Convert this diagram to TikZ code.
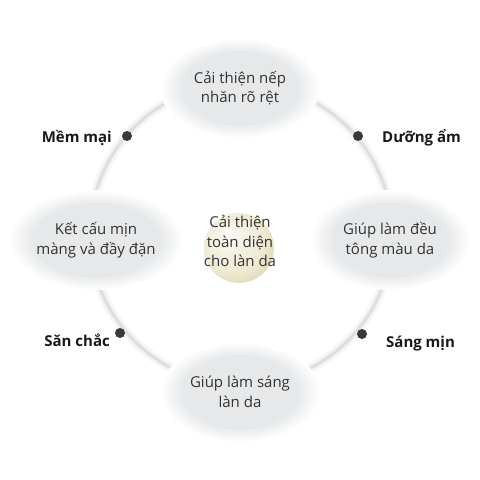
\documentclass[tikz,border=0pt]{standalone}
\usepackage{fontspec}
\setmainfont{Open Sans}
\usetikzlibrary{shapes.geometric,positioning}
\definecolor{hazegray}{RGB}{230,232,234}
\definecolor{ringgray}{RGB}{222,222,222}
\definecolor{pearlhi}{RGB}{247,245,234}
\definecolor{pearlmid}{RGB}{238,234,212}
\definecolor{pearledge}{RGB}{218,210,170}
\definecolor{textgray}{RGB}{51,51,51}
\definecolor{dotgray}{RGB}{58,56,58}
\pgfdeclareradialshading{haze}{\pgfpoint{0bp}{0bp}}{color(0bp)=(hazegray); color(18bp)=(hazegray); color(25bp)=(white); color(50bp)=(white)}
\pgfdeclareradialshading{pearl}{\pgfpoint{-9bp}{9bp}}{color(0bp)=(white); color(6bp)=(pearlhi); color(22bp)=(pearlmid); color(36bp)=(pearledge); color(50bp)=(pearledge)}

\begin{document}
\begin{tikzpicture}[x=1pt,y=1pt,
blob/.style={ellipse, shading=haze, minimum width=160pt, minimum height=100pt, inner sep=0pt, align=center, text=textgray, font=\fontsize{15}{19.5}\selectfont},
punkt/.style={circle, minimum size=10pt, inner sep=0pt, fill=dotgray},
tag/.style={inner sep=0pt, text=black!90, font=\bfseries\fontsize{15}{17}\selectfont},
]
\useasboundingbox (0,0) rectangle (480,480);

%\draw[help lines,yellow,thin] (0,0) grid[step=20] (480,480);

\draw [line width=10pt, ringgray!25] (241,246) circle (151);
\draw [line width=5pt, ringgray!55] (241,246) circle (151);
\draw [line width=2.5pt, ringgray] (241,246) circle (151);

\node [blob] (top) at (240,392){Cải thiện nếp\\nhăn rõ rệt};
\node [blob, minimum width=175pt] (left) at (96,240){Kết cấu mịn\\màng và đầy đặn};
\node [blob] (right) at (390,240){Giúp làm đều\\tông màu da};
\node [blob] (bottom) at (240,88){Giúp làm sáng\\làn da};

\node [circle, shading=pearl, minimum size=70pt] (core) at (239,232){};
\node [align=center, text=textgray, font=\fontsize{15}{19.5}\selectfont] (coretext) at (240,239){Cải thiện\\toàn diện\\cho làn da};

\node [punkt] (d1) at (127,344){};
\node [punkt] (d2) at (358,344){};
\node [punkt] (d3) at (120,147){};
\node [punkt] (d4) at (362,146){};

\node [tag, anchor=base east] (l1) at (112,337){Mềm mại};
\node [tag, anchor=base west] (l2) at (382,337){Dưỡng ẩm};
\node [tag, anchor=base east] (l3) at (110,133){Săn chắc};
\node [tag, anchor=base west] (l4) at (386,132){Sáng mịn};
\end{tikzpicture}
\end{document}
